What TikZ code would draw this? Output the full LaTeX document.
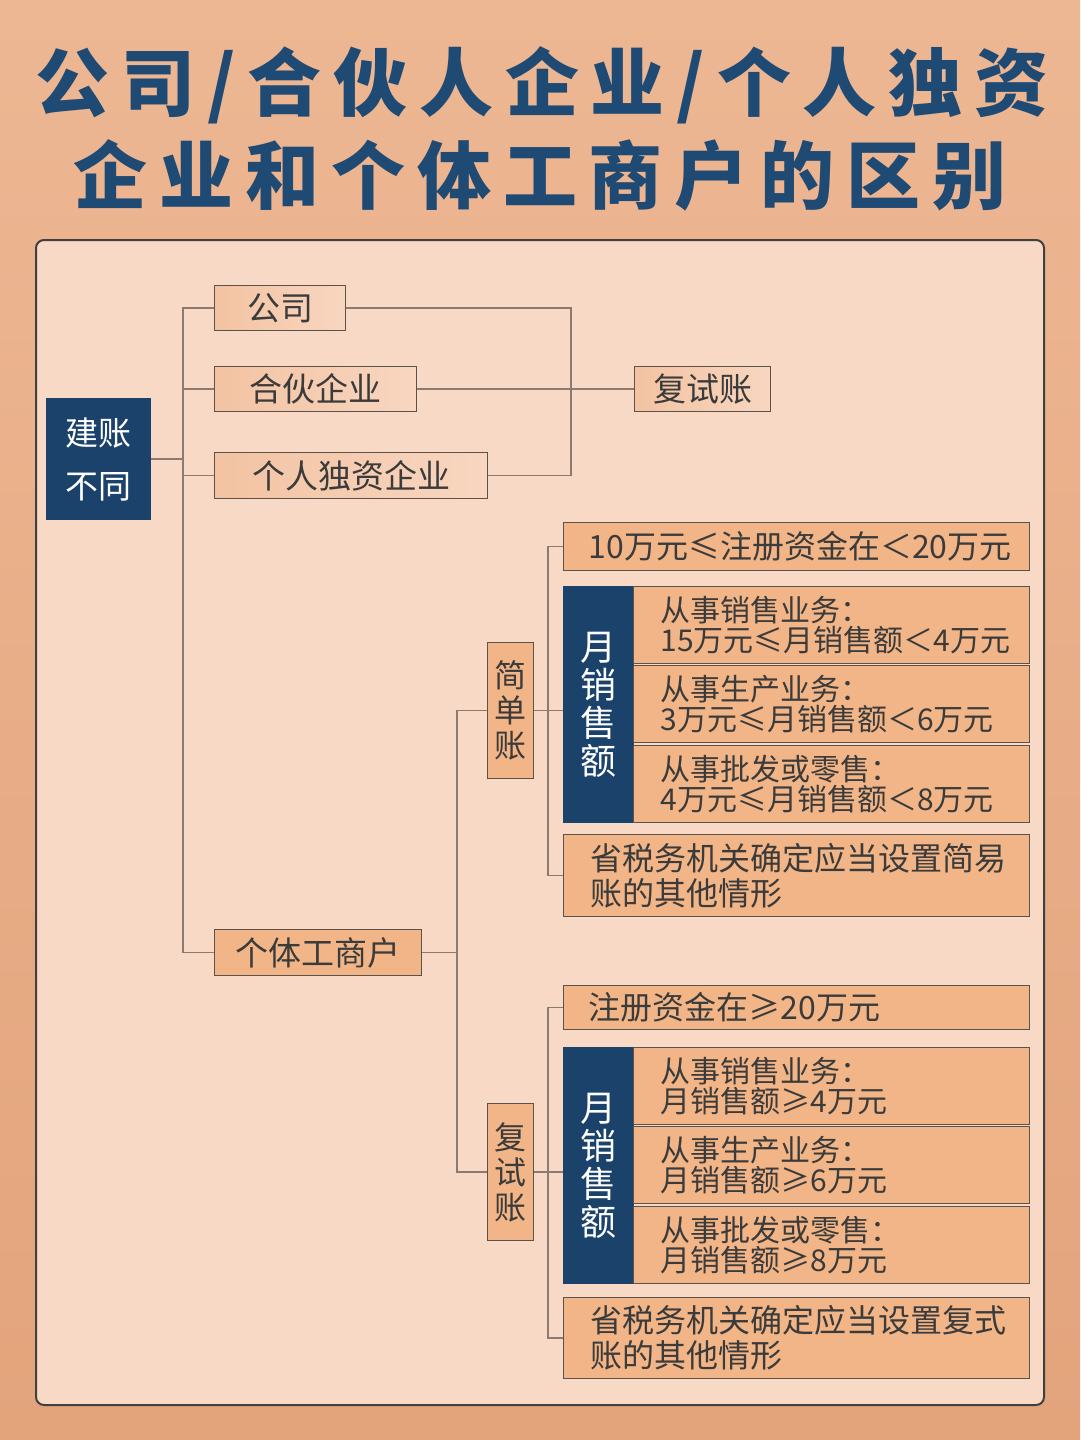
\documentclass[tikz,border=0pt]{standalone}
\usepackage{fontspec}
\setmainfont{Noto Sans CJK SC}
\newfontfamily\titlefont[LetterSpace=16]{Noto Sans CJK SC}
\usepackage{tikz}
\definecolor{bgtop}{HTML}{EDB793}
\definecolor{bgbot}{HTML}{E3A47C}
\definecolor{panel}{HTML}{F7D9C5}
\definecolor{pchl}{HTML}{F3C3A2}
\definecolor{pchr}{HTML}{F8D6C0}
\definecolor{orng}{HTML}{F2B587}
\definecolor{navy}{HTML}{1B426B}
\definecolor{ttl}{HTML}{1F4A74}
\definecolor{txt}{HTML}{3B3B3B}
\definecolor{lnk}{HTML}{8A7A70}
\definecolor{boxline}{HTML}{5B524C}
\tikzset{
  box/.style = {rectangle, draw=boxline, line width=1pt, inner sep=0pt, text=txt, anchor=north west},
  sz/.style 2 args = {minimum width=#1pt, minimum height=#2pt},
  pbox/.style = {box, left color=pchl, right color=pchr, font=\fontsize{33}{36}\selectfont},
  obox/.style = {box, fill=orng},
  dbox/.style = {box, fill=navy, draw=navy, text=white},
  lbox/.style 2 args = {obox, text width=#1pt, inner xsep=#2pt, align=left},
  vtext/.style = {align=center, font=\fontsize{32}{35}\selectfont},
  mtext/.style = {align=center, font=\fontsize{36}{38}\selectfont},
  bigt/.style = {font=\fontsize{32}{35}\selectfont},
  smallt/.style = {font=\fontsize{30}{29.5}\selectfont},
  link/.style = {draw=lnk, line width=1.2pt},
  title/.style = {text=ttl, font=\titlefont\bfseries\fontsize{74}{80}\selectfont},
}

\begin{document}
\begin{tikzpicture}[x=1pt, y=-1pt]
\shade[top color=bgtop, bottom color=bgbot] (0,0) rectangle (1080,1440);
\useasboundingbox (0,0) rectangle (1080,1440);
\node[title] (t1) at (542,85) {公司/合伙人企业/个人独资};
\node[title] (t2) at (540,175) {企业和个体工商户的区别};
\draw[fill=panel, draw=black!75, line width=2pt, rounded corners=8pt] (36,240) rectangle (1044,1405);

\node[dbox, sz={104}{121}, align=center, font=\fontsize{33}{53}\selectfont] (jz) at (46,398) {建账\\不同};
\node[pbox, sz={131}{45}] (gs) at (214,285) {公司};
\node[pbox, sz={202}{45}] (hh) at (214,366) {合伙企业};
\node[pbox, sz={273}{46}] (gr) at (214,452) {个人独资企业};
\node[pbox, sz={136}{45}] (fs) at (634,366) {复试账};
\node[obox, sz={207}{46}, font=\fontsize{33}{36}\selectfont] (gt) at (214,929) {个体工商户};
\node[obox, vtext, sz={46}{136}] (jd) at (487,642) {简\\单\\账};
\node[obox, vtext, sz={46}{137}] (fz) at (487,1103) {复\\试\\账};

\node[lbox={416}{25}, bigt, sz={466}{48}] (a1) at (563,522) {10万元≤注册资金在＜20万元};
\node[dbox, mtext, sz={70}{236}] (m1) at (563,586) {月\\销\\售\\额};
\node[lbox={342}{27}, smallt, sz={396}{77}] (a2) at (633,586) {从事销售业务：\\15万元≤月销售额＜4万元};
\node[lbox={342}{27}, smallt, sz={396}{77}] (a3) at (633,665) {从事生产业务：\\3万元≤月销售额＜6万元};
\node[lbox={342}{27}, smallt, sz={396}{77}] (a4) at (633,745) {从事批发或零售：\\4万元≤月销售额＜8万元};
\node[lbox={412}{27}, font=\fontsize{32}{35}\selectfont, sz={466}{82}] (a5) at (563,834) {省税务机关确定应当设置简易\\账的其他情形};

\node[lbox={416}{25}, bigt, sz={466}{44}] (b1) at (563,985) {注册资金在≥20万元};
\node[dbox, mtext, sz={70}{236}] (m2) at (563,1047) {月\\销\\售\\额};
\node[lbox={342}{27}, smallt, sz={396}{77}] (b2) at (633,1047) {从事销售业务：\\月销售额≥4万元};
\node[lbox={342}{27}, smallt, sz={396}{77}] (b3) at (633,1126) {从事生产业务：\\月销售额≥6万元};
\node[lbox={342}{27}, smallt, sz={396}{77}] (b4) at (633,1206) {从事批发或零售：\\月销售额≥8万元};
\node[lbox={412}{27}, font=\fontsize{32}{35}\selectfont, sz={466}{81}] (b5) at (563,1297) {省税务机关确定应当设置复式\\账的其他情形};

\coordinate (ta) at (183,0);
\coordinate (ra) at (571,0);
\coordinate (tc) at (457,0);
\coordinate (sa) at (548,0);
\coordinate (sb) at (548,0);
\draw[link] (gs.west) -| (ta |- gt.west) -- (gt.west);
\draw[link] (hh.west) -- (hh.west -| ta);
\draw[link] (gr.west) -- (gr.west -| ta);
\draw[link] (jz.east) -- (jz.east -| ta);
\draw[link] (gs.east) -| (ra |- gr.east) -- (gr.east);
\draw[link] (hh.east) -- (fs.west);
\draw[link] (gt.east) -- (gt.east -| tc);
\draw[link] (jd.west) -| (tc |- fz.west) -- (fz.west);
\draw[link] (a1.west) -| (sa |- a5.west) -- (a5.west);
\draw[link] (jd.east) -- (jd.east -| m1.west);
\draw[link] (b1.west) -| (sb |- b5.west) -- (b5.west);
\draw[link] (fz.east) -- (fz.east -| m2.west);
\end{tikzpicture}
\end{document}
